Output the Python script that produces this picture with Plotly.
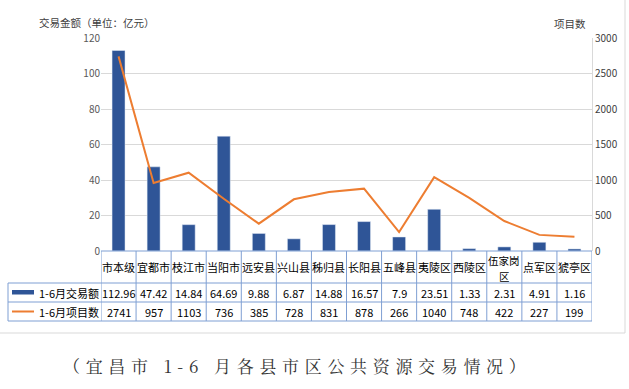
import plotly.graph_objects as go

categories = ["市本级", "宜都市", "枝江市", "当阳市", "远安县", "兴山县", "秭归县",
              "长阳县", "五峰县", "夷陵区", "西陵区", "伍家岗区", "点军区", "猇亭区"]
header_labels = ["市本级", "宜都市", "枝江市", "当阳市", "远安县", "兴山县", "秭归县",
                 "长阳县", "五峰县", "夷陵区", "西陵区", "伍家岗<br>区", "点军区", "猇亭区"]
amount = [112.96, 47.42, 14.84, 64.69, 9.88, 6.87, 14.88, 16.57, 7.9, 23.51, 1.33, 2.31, 4.91, 1.16]
projects = [2741, 957, 1103, 736, 385, 728, 831, 878, 266, 1040, 748, 422, 227, 199]
amount_text = ["112.96", "47.42", "14.84", "64.69", "9.88", "6.87", "14.88", "16.57",
               "7.9", "23.51", "1.33", "2.31", "4.91", "1.16"]
series_names = ["1-6月交易额", "1-6月项目数"]
caption = "（宜昌市 1-6 月各县市区公共资源交易情况）"

W, H = 629, 389
L, R, T, B = 101, 37, 38, 138
PH = H - T - B  # plot height
PW = W - L - R

def py(px):  # pixel y -> paper y
    return (H - B - px) / PH

def pxx(px):
    return (px - L) / PW

BLUE = "#2F5597"
ORANGE = "#ED7D31"
GRID = "#D9D9D9"
TLINE = "#7F9FD3"
FONT = "Noto Sans CJK SC"

fig = go.Figure()
fig.add_trace(go.Bar(x=categories, y=amount, name=series_names[0], marker_color=BLUE,
                     width=0.37, yaxis="y"))
fig.add_trace(go.Scatter(x=categories, y=projects, name=series_names[1], mode="lines",
                         line=dict(color=ORANGE, width=2), yaxis="y2"))

shapes = []
annotations = []
n = len(categories)
# table horizontal lines
for ypx, x0 in [(283, 8), (302, 8), (321, 8)]:
    shapes.append(dict(type="line", xref="paper", yref="paper", x0=pxx(x0), x1=1,
                       y0=py(ypx), y1=py(ypx), line=dict(color=TLINE, width=1)))
shapes.append(dict(type="line", xref="paper", yref="paper", x0=0, x1=1,
                   y0=0, y1=0, line=dict(color=TLINE, width=1)))
# vertical lines
for i in range(n + 1):
    shapes.append(dict(type="line", xref="x", yref="paper", x0=i - 0.5, x1=i - 0.5,
                       y0=py(321), y1=0, line=dict(color=TLINE, width=1)))
shapes.append(dict(type="line", xref="paper", yref="paper", x0=pxx(8), x1=pxx(8),
                   y0=py(321), y1=py(283), line=dict(color=TLINE, width=1)))
# outer frame
shapes.append(dict(type="line", xref="paper", yref="paper", x0=pxx(625), x1=pxx(625),
                   y0=py(333), y1=py(0), line=dict(color=GRID, width=1)))
shapes.append(dict(type="line", xref="paper", yref="paper", x0=pxx(0), x1=pxx(625),
                   y0=py(333), y1=py(333), line=dict(color=GRID, width=1)))
# legend symbols
shapes.append(dict(type="rect", xref="paper", yref="paper", x0=pxx(12), x1=pxx(34),
                   y0=py(294.5), y1=py(290), fillcolor=BLUE, line=dict(width=0)))
shapes.append(dict(type="line", xref="paper", yref="paper", x0=pxx(12), x1=pxx(34),
                   y0=py(311.5), y1=py(311.5), line=dict(color=ORANGE, width=2)))

tfont = dict(family=FONT, size=11, color="#000000")
for i, c in enumerate(categories):
    parts = header_labels[i].split("<br>")
    if len(parts) == 1:
        annotations.append(dict(x=c, y=py(267), xref="x", yref="paper", text=parts[0],
                                showarrow=False, font=tfont, xanchor="center", yanchor="middle"))
    else:
        for part, ypx in zip(parts, [260, 276]):
            annotations.append(dict(x=c, y=py(ypx), xref="x", yref="paper", text=part,
                                    showarrow=False, font=dict(family=FONT, size=10.5, color="#000000"),
                                    xanchor="center", yanchor="middle", height=13))
    annotations.append(dict(x=c, y=py(292.5), xref="x", yref="paper", text=amount_text[i],
                            showarrow=False, font=tfont, xanchor="center", yanchor="middle"))
    annotations.append(dict(x=c, y=py(311.5), xref="x", yref="paper", text=str(projects[i]),
                            showarrow=False, font=tfont, xanchor="center", yanchor="middle"))
for name, ypx in zip(series_names, [292.5, 311.5]):
    annotations.append(dict(x=pxx(37), y=py(ypx), xref="paper", yref="paper", text=name,
                            showarrow=False, font=tfont, xanchor="left", yanchor="middle"))

annotations.append(dict(x=pxx(37), y=py(22), xref="paper", yref="paper",
                        text="交易金额（单位：亿元）", showarrow=False,
                        font=dict(family=FONT, size=10.5, color="#404040"),
                        xanchor="left", yanchor="middle"))
annotations.append(dict(x=pxx(588), y=py(24), xref="paper", yref="paper",
                        text="项目数", showarrow=False,
                        font=dict(family=FONT, size=10.5, color="#404040"),
                        xanchor="right", yanchor="middle"))
spaced_caption = "\u2004".join(list(caption))
annotations.append(dict(x=pxx(294), y=py(365), xref="paper", yref="paper",
                        text=spaced_caption, showarrow=False,
                        font=dict(family="Noto Serif CJK SC, Noto Sans CJK SC", size=17, color="#333333"),
                        xanchor="center", yanchor="middle"))

fig.update_layout(
    width=W, height=H,
    margin=dict(l=L, r=R, t=T, b=B),
    paper_bgcolor="white", plot_bgcolor="white",
    showlegend=False,
    bargap=0.63,
    font=dict(family=FONT, size=10, color="#595959"),
    xaxis=dict(type="category", showticklabels=False, showgrid=False, zeroline=False,
               ticks="", range=[-0.5, n - 0.5]),
    yaxis=dict(range=[0, 120], dtick=20, showgrid=True, gridcolor=GRID, gridwidth=1,
               zeroline=False, showline=False, ticks="", ticklen=0,
               tickfont=dict(family=FONT, size=10, color="#595959")),
    yaxis2=dict(range=[0, 3000], dtick=500, overlaying="y", side="right", showgrid=False,
                zeroline=False, showline=True, linecolor=GRID, linewidth=1, ticks="",
                tickfont=dict(family=FONT, size=10, color="#404040")),
    shapes=shapes,
    annotations=annotations,
)

fig.write_html("out.html", config={"displayModeBar": False},
               post_script="document.body.style.margin='0';document.body.style.overflow='hidden';")
